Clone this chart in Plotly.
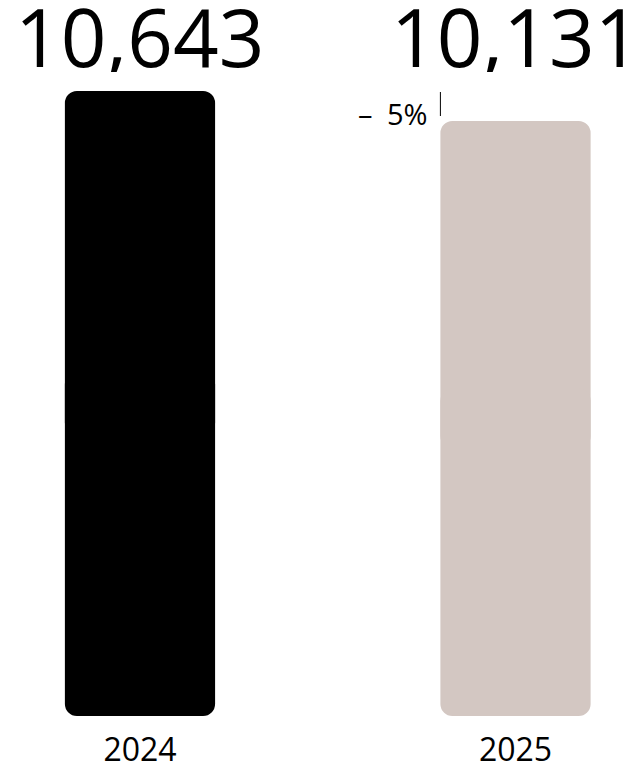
import plotly.graph_objects as go

# Yearly totals
years = ["2024", "2025"]
values = [10643, 10131]
colors = ["#000000", "#D3C7C2"]

FONT = "Open Sans"
change_pct = (values[1] - values[0]) / values[0] * 100
change_text = f"\u2013\u2002{abs(round(change_pct))}%"

fig = go.Figure()

# Each bar is drawn as two overlapping halves so that both ends get rounded corners:
# the upper half rounds its top, the lower half (drawn downward from its base) rounds its bottom.
upper_base = [v * 0.45 for v in values]
lower_base = [v * 0.55 for v in values]
fig.add_trace(go.Bar(
    x=years, y=[v - b for v, b in zip(values, upper_base)], base=upper_base,
    width=0.4, marker=dict(color=colors, cornerradius=12, line_width=0),
    hoverinfo="skip", showlegend=False,
))
fig.add_trace(go.Bar(
    x=years, y=[-b for b in lower_base], base=lower_base,
    width=0.4, marker=dict(color=colors, cornerradius=12, line_width=0),
    hoverinfo="skip", showlegend=False,
))

# Value labels, both at the level of the taller bar (category index used for x)
for i, v in enumerate(values):
    fig.add_annotation(
        x=i, y=max(values), text=f"{v:,}", showarrow=False,
        yanchor="bottom", yshift=17, height=74, valign="middle",
        font=dict(family=FONT, size=80, color="#000000"),
    )

# Change marker next to the 2025 bar
fig.add_shape(
    type="line", xref="x", yref="y", ysizemode="pixel", yanchor=values[0],
    x0=0.8, x1=0.8, y0=-1, y1=-25,
    line=dict(color="#000000", width=1),
)
fig.add_annotation(
    x=0.8, y=values[0], text=change_text, showarrow=False,
    xanchor="right", yanchor="middle", xshift=-10, yshift=-22,
    font=dict(family=FONT, size=29, color="#000000"),
)

fig.update_layout(
    width=641, height=767,
    margin=dict(l=0, r=0, t=0, b=51),
    barmode="overlay",
    plot_bgcolor="#FFFFFF", paper_bgcolor="#FFFFFF",
    xaxis=dict(
        type="category", range=[-0.3728, 1.3342],
        showgrid=False, zeroline=False, showline=False, ticks="",
        tickfont=dict(family=FONT, size=32, color="#000000"),
        ticklabelstandoff=12,
        automargin=False,
    ),
    yaxis=dict(
        range=[0, values[0] * 716 / 625],
        visible=False, showgrid=False, zeroline=False,
    ),
)

fig.write_html("out.html")
